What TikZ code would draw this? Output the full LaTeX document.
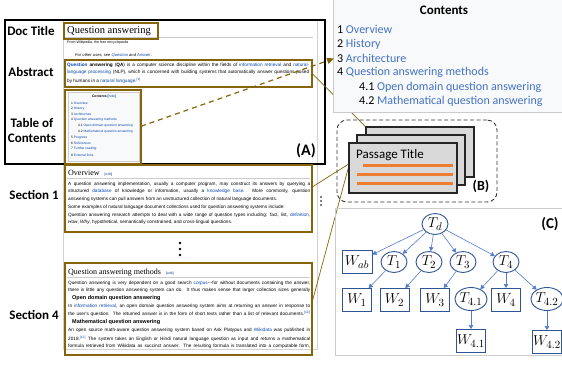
\documentclass[tikz,border=0pt]{standalone}
\usepackage{fontspec}
\usetikzlibrary{arrows.meta,shapes.geometric,calc}
\newfontfamily\calfont{Carlito}
\newfontfamily\wkfont{Liberation Sans}
\newfontfamily\wksfont{Liberation Serif}
\newcommand\setfs[1]{\fontsize{#1}{#1}\selectfont}
\definecolor{gold}{RGB}{133,100,10}
\definecolor{wlink}{RGB}{6,69,173}
\definecolor{cblue}{RGB}{68,114,196}
\definecolor{tblue}{RGB}{47,85,151}
\definecolor{lblue}{RGB}{80,125,205}
\definecolor{orng}{RGB}{237,125,49}
\definecolor{cardgray}{RGB}{217,217,217}
\definecolor{panelgray}{RGB}{248,249,250}
\definecolor{panelline}{RGB}{200,204,209}
\newcommand\lk[1]{\textcolor{wlink}{#1}}
\newcommand\wl[1]{\makebox[242pt][s]{#1}}
\tikzset{
  box/.style={anchor=north west, inner sep=0, outer sep=0},
  goldbox/.style={box, draw=gold, line width=1.5pt},
  lbl/.style={font=\calfont\bfseries\fontsize{13}{15}\selectfont, inner sep=0},
  biglbl/.style={font=\calfont\bfseries\setfs{15}, inner sep=0},
  wt/.style={anchor=west, inner sep=0, font=\wkfont\setfs{4.7}},
  wh/.style={anchor=west, inner sep=0, font=\wksfont\setfs{8}},
  wb/.style={anchor=west, inner sep=0, font=\wkfont\bfseries\setfs{5.5}},
  tt/.style={anchor=west, inner sep=0, font=\wkfont\setfs{3.3}, text=wlink},
  ct/.style={anchor=west, inner sep=0, font=\calfont\setfs{12}},
  card/.style={box, draw=black!85, line width=1.2pt, fill=cardgray, minimum width=108pt, minimum height=50pt},
  tn/.style={ellipse, draw=tblue, line width=0.9pt, fill=white, minimum width=26pt, minimum height=21pt, inner sep=0, font=\setfs{15}},
  wn/.style={rectangle, draw=tblue, line width=0.9pt, fill=white, minimum width=29pt, minimum height=23pt, inner sep=0, font=\setfs{15}},
  tarr/.style={draw=lblue, line width=0.6pt, -{Triangle[length=4pt,width=4.5pt]}},
  conn/.style={draw=gold, line width=0.7pt},
}
\begin{document}
\begin{tikzpicture}[x=1pt,y=-1pt]
\useasboundingbox (0,0) rectangle (562,365);
% ---------- page and frame ----------
\node[box, draw=gray!35, line width=0.6pt, minimum width=254pt, minimum height=329pt] (page) at (63,20) {};
\node[box, draw=black, line width=1.1pt, minimum width=320pt, minimum height=144pt] (frameA) at (5,20) {};
\node[lbl] (ldoc) at (31,31) {Doc Title};
\node[lbl] (labs) at (31,72) {Abstract};
\node[lbl, align=center] (ltoc) at (32,130) {Table of\\Contents};
\node[lbl] (lsec1) at (34,195) {Section 1};
\node[lbl] (lsec4) at (34,315) {Section 4};
\node[biglbl, font=\calfont\bfseries\setfs{16}] (lA) at (306,151) {(A)};
% ---------- wikipedia page content ----------
\draw[gray!40, line width=0.5pt] (64,37.5) -- (313,37.5);
\node[anchor=west, inner sep=0, font=\wksfont\setfs{10.5}] (title) at (67,31) {Question answering};
\node[goldbox, minimum width=94pt, minimum height=16pt] (titlebox) at (64,23) {};
\node[wt, font=\wkfont\setfs{3.6}] (from) at (67,43) {From Wikipedia, the free encyclopedia};
\node[wt, font=\wkfont\itshape\setfs{4.1}] (other) at (75,55) {For other uses, see \lk{Question} and \lk{Answer}.};
\node[wt] (a1) at (67,65) {\wl{\lk{\textbf{Question}} \textbf{answering} (\textbf{QA}) is a computer science discipline within the fields of \lk{information retrieval} and \lk{natural-}}};
\node[wt] (a2) at (67,72.5) {\wl{\lk{language processing} (NLP), which is concerned with building systems that automatically answer questions posed}};
\node[wt] (a3) at (67,80.5) {by humans in a \lk{natural language}.\textsuperscript{\lk{[1]}}};
\node[goldbox, minimum width=247pt, minimum height=27pt] (abs) at (65,60) {};
% mini table of contents
\node[box, fill=panelgray, draw=gray!40, line width=0.4pt, minimum width=71pt, minimum height=69pt] (minitoc) at (68,92) {};
\node[inner sep=0, font=\wkfont\setfs{3.4}] (mt0) at (104,96.5) {\textbf{Contents} [\lk{hide}]};
\node[tt] (mt1) at (71,103) {\textcolor{black}{1} Overview};
\node[tt] (mt2) at (71,108.5) {\textcolor{black}{2} History};
\node[tt] (mt3) at (71,114) {\textcolor{black}{3} Architecture};
\node[tt] (mt4) at (71,120) {\textcolor{black}{4} Question answering methods};
\node[tt] (mt41) at (78,126) {\textcolor{black}{4.1} Open domain question answering};
\node[tt] (mt42) at (78,132) {\textcolor{black}{4.2} Mathematical question answering};
\node[tt] (mt5) at (71,138) {\textcolor{black}{5} Progress};
\node[tt] (mt6) at (71,143.5) {\textcolor{black}{6} References};
\node[tt] (mt7) at (71,149) {\textcolor{black}{7} Further reading};
\node[tt] (mt8) at (71,155) {\textcolor{black}{8} External links};
\node[goldbox, minimum width=76pt, minimum height=74pt] (tocbox) at (65,90) {};
% section 1
\node[wh] (h1) at (68,173.5) {Overview\hspace{5pt}{\wkfont\setfs{3.4}[\lk{edit}]}};
\draw[gray!40, line width=0.5pt] (67,178.5) -- (310,178.5);
\node[wt] (s1a) at (68,184) {\wl{A question answering implementation, usually a computer program, may construct its answers by querying a}};
\node[wt] (s1b) at (68,191.5) {\wl{structured \lk{database} of knowledge or information, usually a \lk{knowledge base}. More commonly, question}};
\node[wt] (s1c) at (68,199) {answering systems can pull answers from an unstructured collection of natural language documents.};
\node[wt] (s1d) at (68,207.5) {Some examples of natural language document collections used for question answering systems include:};
\node[wt] (s1e) at (68,215) {\wl{Question answering research attempts to deal with a wide range of question types including: fact, list, \lk{definition},}};
\node[wt] (s1f) at (68,222.5) {\textit{How}, \textit{Why}, hypothetical, semantically constrained, and cross-lingual questions.};
\node[goldbox, minimum width=247pt, minimum height=67pt] (sec1) at (65,165) {};
% dots
\fill (180,243) circle (1.3pt) (180,249) circle (1.3pt) (180,255) circle (1.3pt);
\fill (321,197) circle (0.9pt) (321,201) circle (0.9pt) (321,205) circle (0.9pt);
% section 4
\node[wh] (h4) at (68,272.5) {Question answering methods\hspace{5pt}{\wkfont\setfs{3.4}[\lk{edit}]}};
\draw[gray!40, line width=0.5pt] (67,277.5) -- (310,277.5);
\node[wt] (s4a) at (68,283) {\wl{Question answering is very dependent on a good search \lk{corpus}---for without documents containing the answer,}};
\node[wt] (s4b) at (68,290.5) {\wl{there is little any question answering system can do. It thus makes sense that larger collection sizes generally}};
\node[wb] (s4c) at (72,298) {Open domain question answering};
\node[wt] (s4d) at (68,306) {\wl{In \lk{information retrieval}, an open domain question answering system aims at returning an answer in response to}};
\node[wt] (s4e) at (68,314) {\wl{the user's question. The returned answer is in the form of short texts rather than a list of relevant documents.\textsuperscript{\lk{[10]}}}};
\node[wb] (s4f) at (72,322) {Mathematical question answering};
\node[wt] (s4g) at (68,330.5) {\wl{An open source math-aware question answering system based on Ask Platypus and \lk{Wikidata} was published in}};
\node[wt] (s4h) at (68,338.5) {\wl{2018.\textsuperscript{\lk{[12]}} The system takes an English or Hindi natural language question as input and returns a mathematical}};
\node[wt] (s4i) at (68,346.5) {\wl{formula retrieved from Wikidata as succinct answer. The resulting formula is translated into a computable form,}};
\node[goldbox, minimum width=247pt, minimum height=92pt] (sec4) at (65,263) {};
% ---------- passage cards (B) ----------
\node[card] (cback) at (366,127) {};
% connector from abstract (drawn under the contents panel)
\draw[conn] (abs.east) -- (cback.north west);
% contents panel
\node[box, fill=panelgray, draw=panelline, line width=0.6pt, minimum width=232pt, minimum height=115pt] (cpanel) at (333,-3) {};
\node[ct, anchor=center, font=\calfont\bfseries\setfs{13}] (ctitle) at (444,10) {Contents};
\node[ct] (c1) at (337,29) {1 \textcolor{cblue}{Overview}};
\node[ct] (c2) at (337,44) {2 \textcolor{cblue}{History}};
\node[ct] (c3) at (337,58.5) {3 \textcolor{cblue}{Architecture}};
\node[ct] (c4) at (337,72.5) {4 \textcolor{cblue}{Question answering methods}};
\node[ct] (c41) at (359,87) {4.1 \textcolor{cblue}{Open domain question answering}};
\node[ct] (c42) at (359,101) {4.2 \textcolor{cblue}{Mathematical question answering}};
% dashed arrow from the table of contents
\coordinate (tocpt) at ($(tocbox.north east)!0.49!(tocbox.south east)$);
\draw[gold, line width=1.2pt, dash pattern=on 5pt off 4pt, -{Triangle[length=7pt,width=6pt]}] (tocpt) -- ([xshift=-3pt]c3.west);
% section connectors
\coordinate (s1pt) at ($(sec1.north east)!0.33!(sec1.south east)$);
\coordinate (s4pt) at ($(sec4.north east)!0.43!(sec4.south east)$);
\node[box, minimum width=1pt, minimum height=1pt] (cardpt) at (349,163) {};
\draw[conn] (s1pt) -- (cardpt.center);
\draw[conn] (s4pt) -- (cardpt.center);
\node[draw=black!80, line width=0.9pt, dashed, dash pattern=on 4pt off 2.5pt, rounded corners=10pt, box, minimum width=160pt, minimum height=82pt] (bbox) at (337,120) {};
\node[card] (cback2) at (366,127) {};
\node[card] (cmid) at (357,135) {};
\node[card] (cfront) at (349,143) {};
\node[ct, font=\calfont\setfs{13}] (ptitle) at (356,155) {Passage Title};
\draw[orng, line width=3pt] (363,165) -- (453,165);
\draw[orng, line width=3pt] (357,174) -- (453,174);
\draw[orng, line width=3pt] (357,183) -- (453,183);
\node[biglbl, font=\calfont\bfseries\setfs{14}] (lB) at (481,186) {(B)};
% ---------- tree (C) ----------
\node[box, draw=gray!40, line width=0.7pt, minimum width=230pt, minimum height=147pt] (cpan) at (335,208) {};
\node[biglbl] (lC) at (550,224) {(C)};
\node[tn] (Td) at (435,224) {$T_d$};
\node[wn, minimum width=30pt] (Wab) at (357,262) {$W_{ab}$};
\node[tn] (T1) at (394,262) {$T_1$};
\node[tn] (T2) at (429,262) {$T_2$};
\node[tn] (T3) at (463,262) {$T_3$};
\node[tn] (T4) at (506,262) {$T_4$};
\node[wn] (W1) at (357,300) {$W_1$};
\node[wn] (W2) at (394.5,300) {$W_2$};
\node[wn] (W3) at (435,300) {$W_3$};
\node[tn, minimum width=28pt, minimum height=23pt] (T41) at (471,299) {$T_{4.1}$};
\node[wn] (W4) at (506,300) {$W_4$};
\node[tn, minimum width=28pt, minimum height=23pt] (T42) at (547,299) {$T_{4.2}$};
\node[wn] (W41) at (471,341) {$W_{4.1}$};
\node[wn] (W42) at (547,342) {$W_{4.2}$};
\foreach \t in {Wab,T1,T2,T3,T4} \draw[tarr] (Td) -- (\t);
\draw[tarr] (T1) -- (W1);
\draw[tarr] (T2) -- (W2);
\draw[tarr] (T3) -- (W3);
\draw[tarr] (T4) -- (T41);
\draw[tarr] (T4) -- (W4);
\draw[tarr] (T4) -- (T42);
\draw[tarr] (T41) -- (W41);
\draw[tarr] (T42) -- (W42);
\end{tikzpicture}
\end{document}
